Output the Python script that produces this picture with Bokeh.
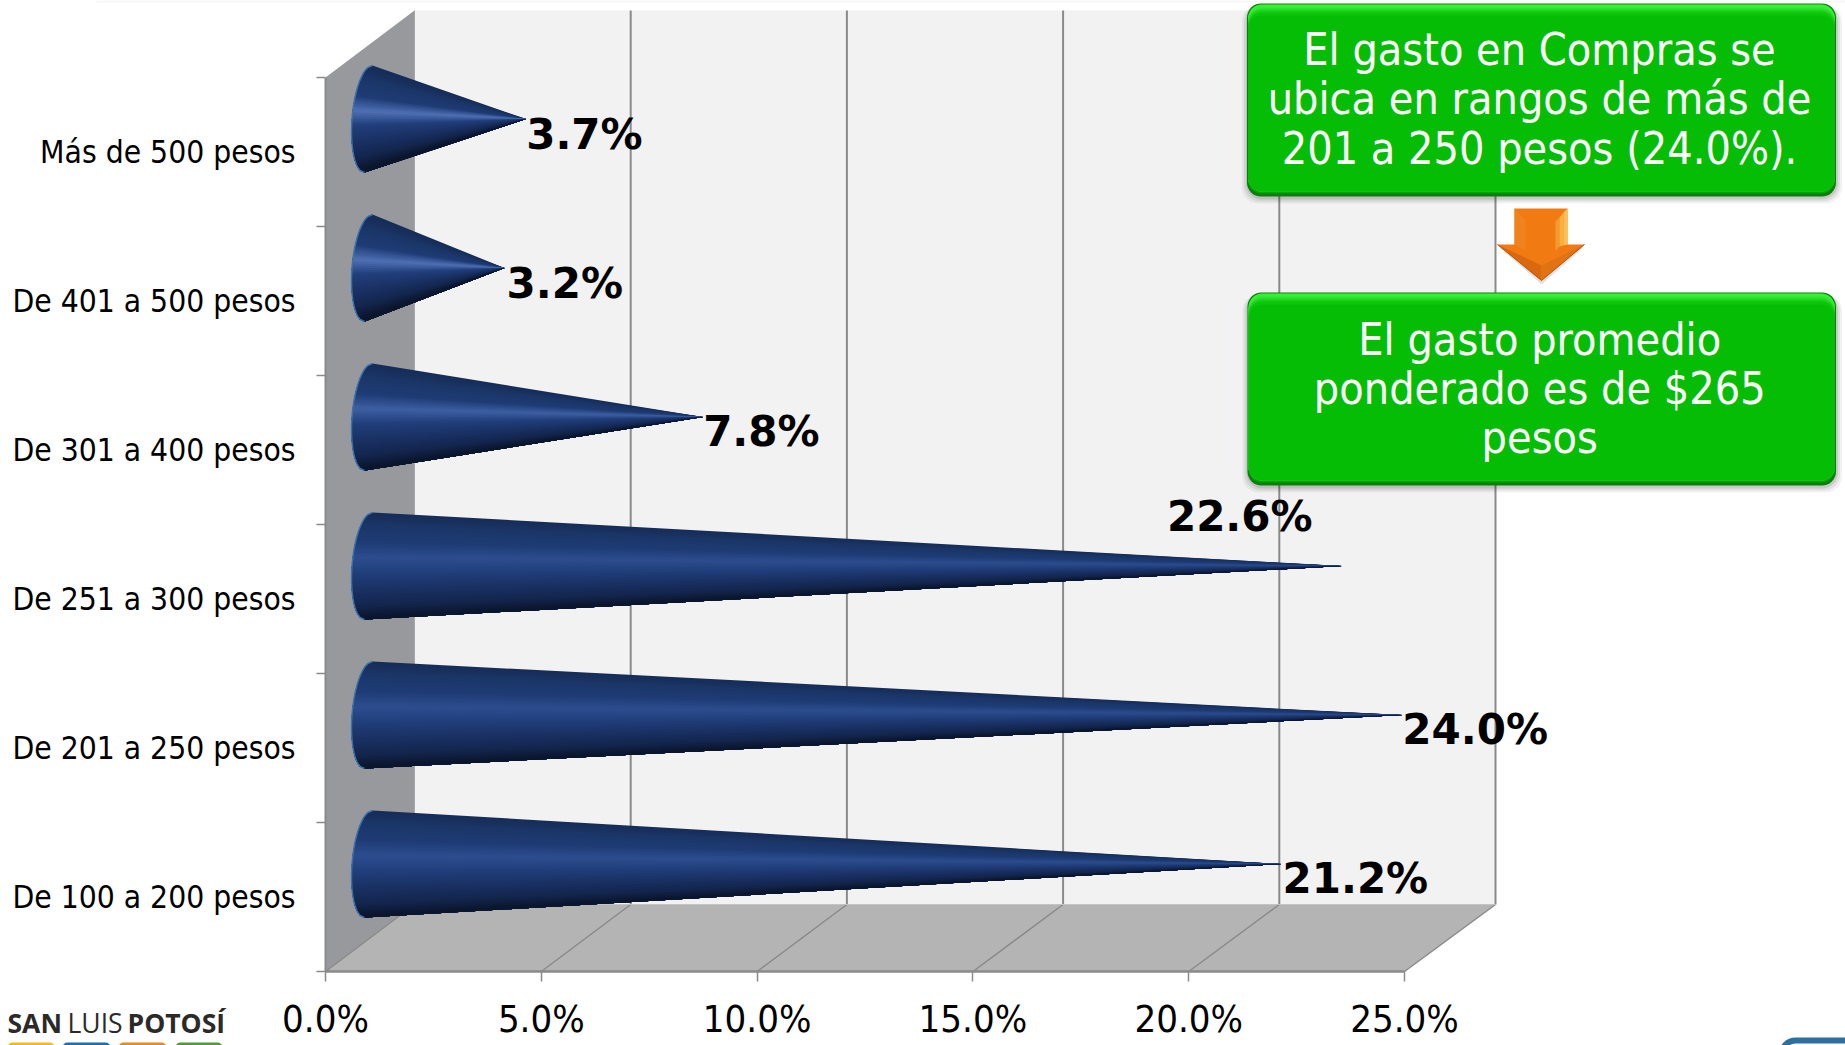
from bokeh.plotting import figure
from bokeh.models import Range1d, LinearAxis, FixedTicker, ColumnDataSource
from bokeh.core.properties import value
from bokeh.embed import file_html
from bokeh.resources import INLINE
import math

categories = ["De 100 a 200 pesos", "De 201 a 250 pesos", "De 251 a 300 pesos",
              "De 301 a 400 pesos", "De 401 a 500 pesos", "Más de 500 pesos"]
values = [21.2, 24.0, 22.6, 7.8, 3.2, 3.7]
value_labels = ["21.2%", "24.0%", "22.6%", "7.8%", "3.2%", "3.7%"]
x_ticks = [0, 5, 10, 15, 20, 25]
box_one_lines = ["El gasto en Compras se", "ubica en rangos de más de", "201 a 250 pesos (24.0%)."]
box_two_lines = ["El gasto promedio", "ponderado es de $265", "pesos"]

FONT = "DejaVu Sans Condensed"
W, H = 1845, 1045
PX_L, PX_B = 325, 971           # pixel position of (0, 0)
SX, SY = 43.16, 149.0           # pixels per percent / per category

def X(px): return (px - PX_L) / SX
def Y(py): return (PX_B - py) / SY

p = figure(width=W, height=H, output_backend="svg", toolbar_location=None,
           x_range=Range1d(X(0), X(W)), y_range=Range1d(Y(H), Y(0)),
           min_border_left=0, min_border_bottom=0, min_border_top=0, min_border_right=0,
           outline_line_color=None)
p.grid.visible = False

GRAY = "#8a8a8a"

# 3-D walls
DXL, DXR, DY = 89 / SX, 91 / SX, 67 / SY
def back_x(v): return v + DXL + (DXR - DXL) * v / 25

p.patch([0, DXL, DXL, 0], [0, DY, 6 + DY, 6], fill_color="#98999d", line_color=None)
p.patch([DXL, back_x(25), back_x(25), DXL], [DY, DY, 6 + DY, 6 + DY], fill_color="#f2f2f2", line_color=None)
p.patch([0, 25, back_x(25), DXL], [0, 0, DY, DY], fill_color="#b4b4b4", line_color=None)
p.quad(left=X(96), right=X(W), bottom=Y(2), top=Y(0), fill_color="#f7f7f7", line_color=None)
for t in x_ticks:
    if t > 0:
        p.line([back_x(t), back_x(t)], [DY, 6 + DY], line_color=GRAY, line_width=2)
    p.line([t, back_x(t)], [0, DY], line_color=GRAY, line_width=1.5)
p.line([DXL, DXL], [DY, 6 + DY], line_color="#a8a8a8", line_width=1)
p.line([DXL, back_x(25)], [DY, DY], line_color="#c4c4c4", line_width=1)

# main axes, placed at data position 0 inside the full-page frame
xa = p.xaxis[0]
xa.fixed_location = 0
xa.ticker = FixedTicker(ticks=x_ticks)
xa.bounds = (0, 25)
xa.major_label_overrides = {t: f"{t:.1f}%" for t in x_ticks}
xa.major_label_text_font = FONT
xa.major_label_text_font_size = "38px"
xa.major_label_text_color = "#000000"
xa.major_label_standoff = 15
xa.axis_line_color = GRAY
xa.axis_line_width = 2.5
xa.major_tick_line_color = GRAY
xa.major_tick_line_width = 1.5
xa.major_tick_out = 10
xa.major_tick_in = 0
xa.minor_tick_line_color = None

ya = p.yaxis[0]
ya.fixed_location = 0
ya.ticker = FixedTicker(ticks=list(range(7)))
ya.bounds = (0, 6)
ya.major_label_overrides = {t: "" for t in range(7)}
ya.major_label_standoff = 0
ya.major_label_text_font_size = "1px"
ya.axis_line_color = GRAY
ya.axis_line_width = 2
ya.major_tick_line_color = GRAY
ya.major_tick_line_width = 1.5
ya.major_tick_out = 9
ya.major_tick_in = 0
ya.minor_tick_line_color = None

centres = [i + 0.5 for i in range(len(categories))]
lab = LinearAxis(ticker=FixedTicker(ticks=centres), fixed_location=0,
                 major_label_overrides={c: n for c, n in zip(centres, categories)},
                 axis_line_color=None, major_tick_line_color=None, minor_tick_line_color=None,
                 major_label_text_font=FONT, major_label_text_font_size="31.5px",
                 major_label_text_color="#000000", major_label_standoff=30,
                 major_tick_out=0, major_tick_in=0)
p.add_layout(lab, "left")

# cones
def hexmix(a, b, f):
    ca = [int(a[i:i + 2], 16) for i in (1, 3, 5)]
    cb = [int(b[i:i + 2], 16) for i in (1, 3, 5)]
    return "#%02x%02x%02x" % tuple(round(x + (y - x) * f) for x, y in zip(ca, cb))

def ramp(t, highlight):
    stops = [(0, "#172c58"), (0.12, "#1b3668"), (0.28, "#1f3c76"), (0.42, highlight), (0.56, "#213f7c"),
             (0.72, "#1a3164"), (0.88, "#13254c"), (1, "#0a1328")]
    for (t0, c0), (t1, c1) in zip(stops, stops[1:]):
        if t <= t1:
            return hexmix(c0, c1, (t - t0) / (t1 - t0))
    return stops[-1][1]

highlights = ["#2d4d8e", "#2d4d8e", "#2d4d8e", "#3e5fa3", "#4f70b4", "#4f70b4"]
BASE_X = 43 / SX
OFF_Y = 33 / SY
TOP_DX, TOP_DY, SIDE = 4 / SX, 53.5 / SY, 16.5 / SX
N = 48
for c, v, hl in zip(centres, values, highlights):
    cx, cy = BASE_X, c + OFF_Y
    tip = (BASE_X + v - 0.05, cy)
    pts = []
    for i in range(N + 1):
        co = 1 - 2 * i / N
        si = math.sqrt(max(0, 1 - co * co))
        pts.append((cx + TOP_DX * co - SIDE * si, cy + TOP_DY * co))
    xs, ys, cols = [], [], []
    # painter's order: every slice spans everything below it, so no seams show
    for i in range(N):
        xs.append([q[0] for q in pts[i:]] + [tip[0]])
        ys.append([q[1] for q in pts[i:]] + [tip[1]])
        cols.append(ramp((i + 0.5) / N, hl))
    p.patches(xs, ys, fill_color=cols, line_color=None)
    p.line([q[0] for q in pts], [q[1] for q in pts], line_color="#3d72ab", line_width=1.4)

# value labels
dx_px = [-1, -2, -177, -2, 0, -2]
dy_px = [14, 14, -50, 14, 15, 15]
src = ColumnDataSource(dict(x=[BASE_X + v for v in values], y=[c + OFF_Y for c in centres],
                            t=value_labels, dx=dx_px, dy=dy_px))
p.text(x="x", y="y", text="t", source=src, x_offset="dx", y_offset="dy",
       text_font=value("DejaVu Sans"), text_font_style="bold", text_font_size="42px",
       text_color="#000000", text_align="left", text_baseline="middle")

# green call-outs
def rounded(x0, y0, x1, y1, r):
    pts = []
    for cx, cy, a0 in ((x1 - r, y0 + r, -90), (x1 - r, y1 - r, 0), (x0 + r, y1 - r, 90), (x0 + r, y0 + r, 180)):
        for k in range(9):
            a = math.radians(a0 + k * 90 / 8)
            pts.append((cx + r * math.cos(a), cy + r * math.sin(a)))
    return [X(q[0]) for q in pts], [Y(q[1]) for q in pts]

def green_box(x0, y0, x1, y1, lines, line_ys):
    for g, al in ((6, 0.05), (4, 0.07), (2, 0.10)):
        xs, ys = rounded(x0 - g + 1, y0 + 2, x1 + g, y1 + g + 1, 16)
        p.patch(xs, ys, fill_color="#000000", fill_alpha=al, line_color=None)
    layers = [(0, 0, "#0b7f0b"), (1, 3, "#0da00d"), (1, 5, "#3cee3c"), (3, 5, "#35ea35"),
              (5, 5, "#28dc28"), (7, 5, "#18cf18"), (9, 5, "#0cc40c"), (12, 5, "#06bd06")]
    for top, bottom, col in layers:
        inset = 1 if top else 0
        xs, ys = rounded(x0 + inset, y0 + top, x1 - inset, y1 - bottom, 14)
        p.patch(xs, ys, fill_color=col, line_color=None)
    p.text(x=[X((x0 + x1) / 2 - 2)] * 3, y=[Y(v) for v in line_ys], text=lines,
           text_font=value(FONT), text_font_size="44.5px", text_color="#ffffff",
           text_align="center", text_baseline="middle")

green_box(1246.5, 3, 1835.5, 196, box_one_lines, [49, 98, 148])
green_box(1247, 292, 1835.5, 485, box_two_lines, [339, 388, 437])

# orange arrow
def poly(pts, col, alpha=1.0):
    p.patch([X(a) for a, b in pts], [Y(b) for a, b in pts], fill_color=col, fill_alpha=alpha, line_color=None)

poly([(1499, 247), (1583, 247), (1541, 284)], "#000000", 0.12)
poly([(1514, 208), (1567, 208), (1567, 244), (1584, 244), (1541, 280), (1497, 244), (1514, 244)], "#f27a12")
poly([(1514, 208), (1525, 220), (1525, 250), (1514, 244)], "#ef831e")
poly([(1555, 221), (1559, 217), (1559, 246), (1555, 250)], "#f59a2e")
poly([(1559, 217), (1563, 212), (1563, 245), (1559, 246)], "#fbb040")
poly([(1563, 212), (1567, 208), (1567, 244), (1563, 245)], "#ffc052")
poly([(1497, 244), (1541, 265), (1541, 280)], "#d8690f")
poly([(1584, 244), (1541, 265), (1541, 280)], "#e37214")
p.line([X(1497), X(1541), X(1584)], [Y(244), Y(280), Y(244)], line_color="#b4570a", line_width=1)

# logo and page furniture
for txt, px, style in (("SAN", 7, "bold"), ("LUIS", 67, "normal"), ("POTOSÍ", 127, "bold")):
    p.text(x=[X(px)], y=[Y(1022)], text=[txt], text_font=value("Open Sans"), text_font_style=style,
           text_font_size="26.5px", text_color="#2b2a29", text_baseline="middle", text_align="left")

for x0, x1, col in ((7, 54, "#f0b82c"), (62, 110, "#1f6fa8"), (118, 166, "#e08a2c"), (175, 222, "#4f9a3e")):
    p.quad(left=X(x0), right=X(x1), top=Y(1042), bottom=Y(1052), fill_color=col, line_color=None,
           border_radius=5)

p.quad(left=X(1781), right=X(1870), top=Y(1040), bottom=Y(1070), fill_color="#ffffff",
       line_color="#2f6f9f", line_width=6, border_radius=14)

open("out.html", "w").write(file_html(p, INLINE))
